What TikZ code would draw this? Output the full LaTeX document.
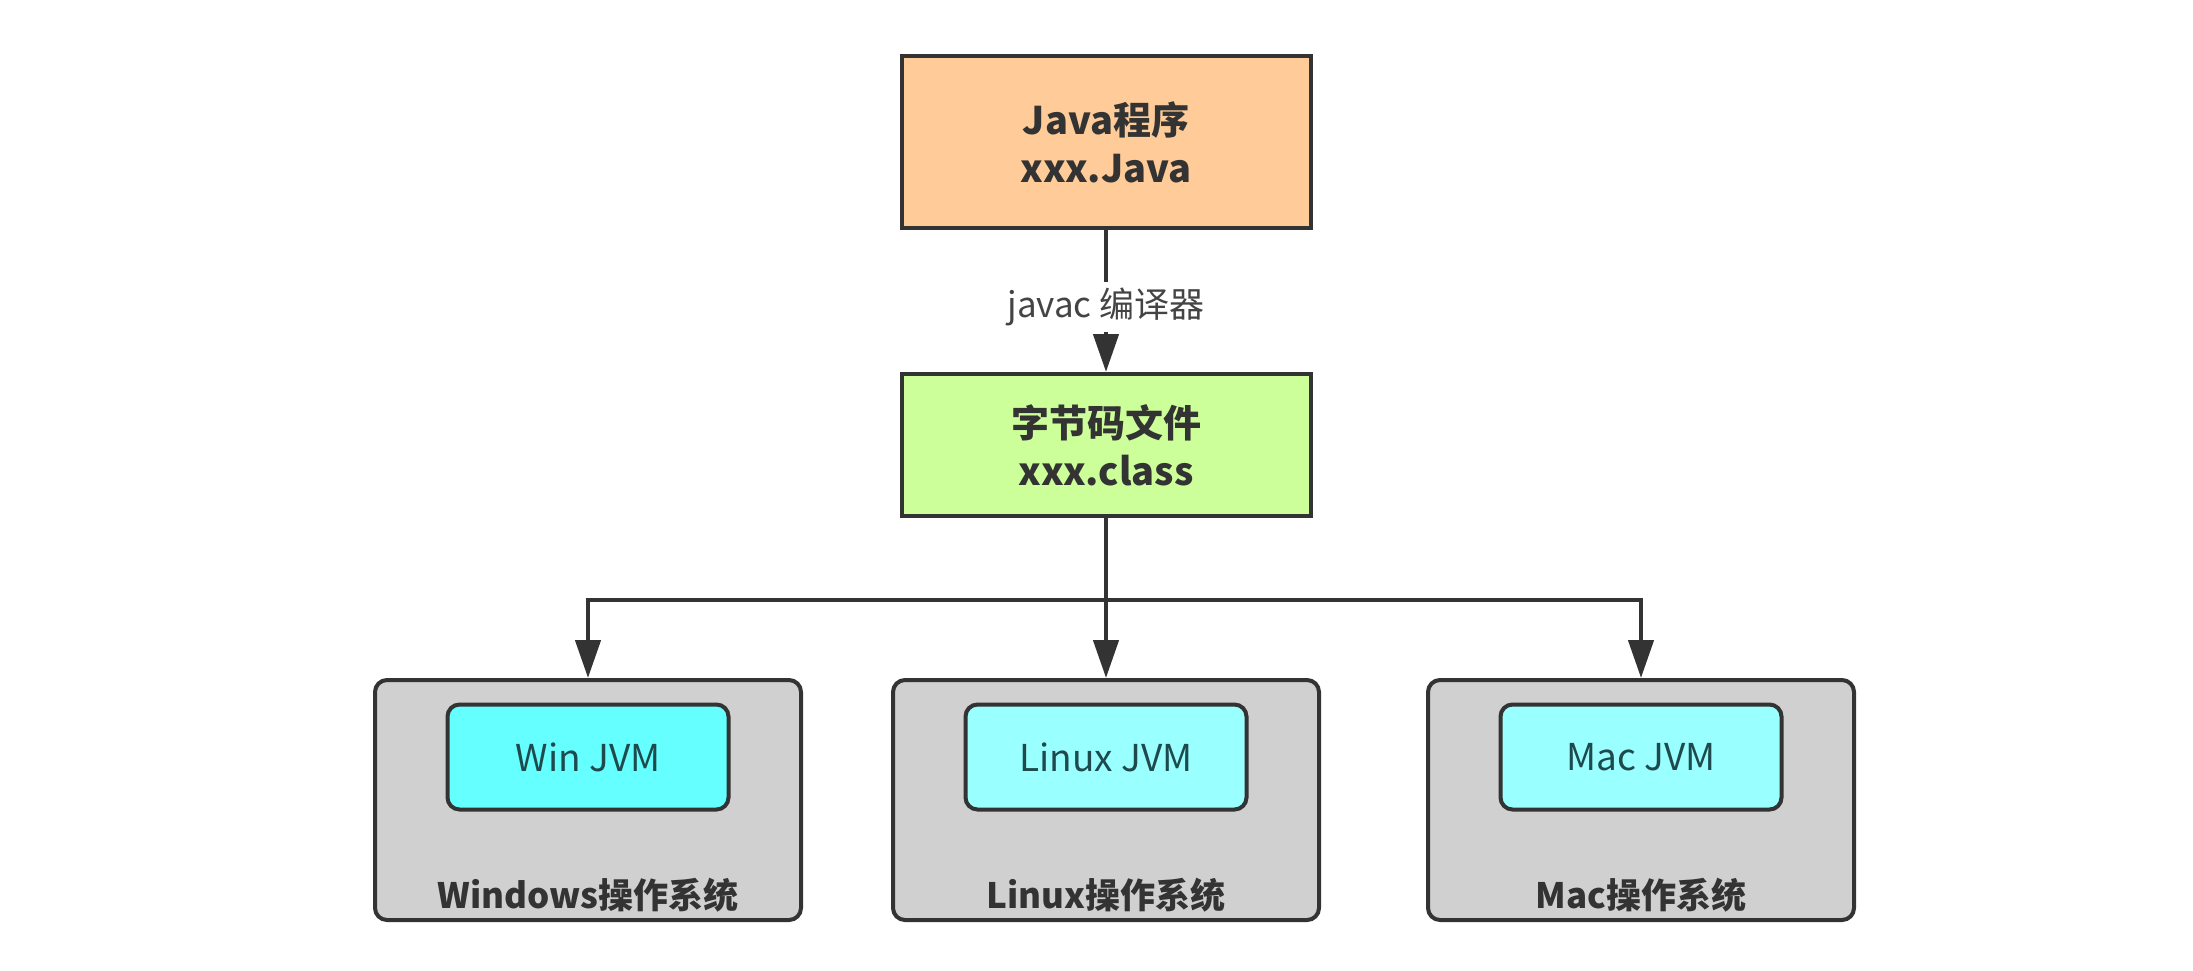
\documentclass[tikz,border=0pt]{standalone}
\usepackage{fontspec}
\setmainfont{Noto Sans CJK SC}
\usetikzlibrary{arrows.meta}
\definecolor{edgec}{HTML}{333333}
\definecolor{javafill}{HTML}{FFCC99}
\definecolor{classfill}{HTML}{CCFF99}
\definecolor{osfill}{HTML}{D0D0D0}
\definecolor{winfill}{HTML}{66FFFF}
\definecolor{jvmfill}{HTML}{99FFFF}
\definecolor{jvmtext}{HTML}{1E4A4E}
\definecolor{labeltext}{HTML}{444444}
\tikzset{
  topbox/.style={draw=edgec, line width=4pt, minimum width=409pt, align=center,
    font=\fontsize{38}{48}\selectfont\bfseries, text=edgec},
  osbox/.style={draw=edgec, line width=4pt, fill=osfill, rounded corners=12pt,
    minimum width=426pt, minimum height=240pt},
  jvmbox/.style={draw=edgec, line width=4pt, rounded corners=12pt,
    minimum width=281pt, minimum height=105pt,
    font=\fontsize{37}{44}\selectfont, text=jvmtext},
  oslabel/.style={font=\fontsize{35}{42}\selectfont\bfseries, text=edgec},
  conn/.style={draw=edgec, line width=4.5pt,
    -{Triangle[length=38pt,width=25pt]}},
}
\begin{document}
\begin{tikzpicture}[x=1pt,y=-1pt]
\useasboundingbox[fill=white] (0,0) rectangle (2193,970);

\node[topbox, fill=javafill, minimum height=172pt] (java) at (1106,142)
  {Java程序\\xxx.Java};
\node[topbox, fill=classfill, minimum height=142pt] (cls) at (1106,445)
  {字节码文件\\xxx.class};

\node[osbox] (win) at (588,800) {};
\node[osbox] (lin) at (1106,800) {};
\node[osbox] (mac) at (1641,800) {};

\node[jvmbox, fill=winfill] (wjvm) at (588,757) {Win JVM};
\node[jvmbox, fill=jvmfill] (ljvm) at (1106,757) {Linux JVM};
\node[jvmbox, fill=jvmfill] (mjvm) at (1641,757) {Mac JVM};

\node[oslabel] (wlab) at (588,895) {Windows操作系统};
\node[oslabel] (llab) at (1106,895) {Linux操作系统};
\node[oslabel] (mlab) at (1641,895) {Mac操作系统};

\draw[conn] (java) -- (cls)
  node[pos=0.54, fill=white, inner sep=6pt, text=labeltext,
       font=\fontsize{35}{40}\selectfont] (lbl) {javac 编译器};

\coordinate (bus) at (1106,600);
\draw[conn] (cls) -- (lin);
\draw[conn] (bus) -| (win);
\draw[conn] (bus) -| (mac);
\end{tikzpicture}
\end{document}
